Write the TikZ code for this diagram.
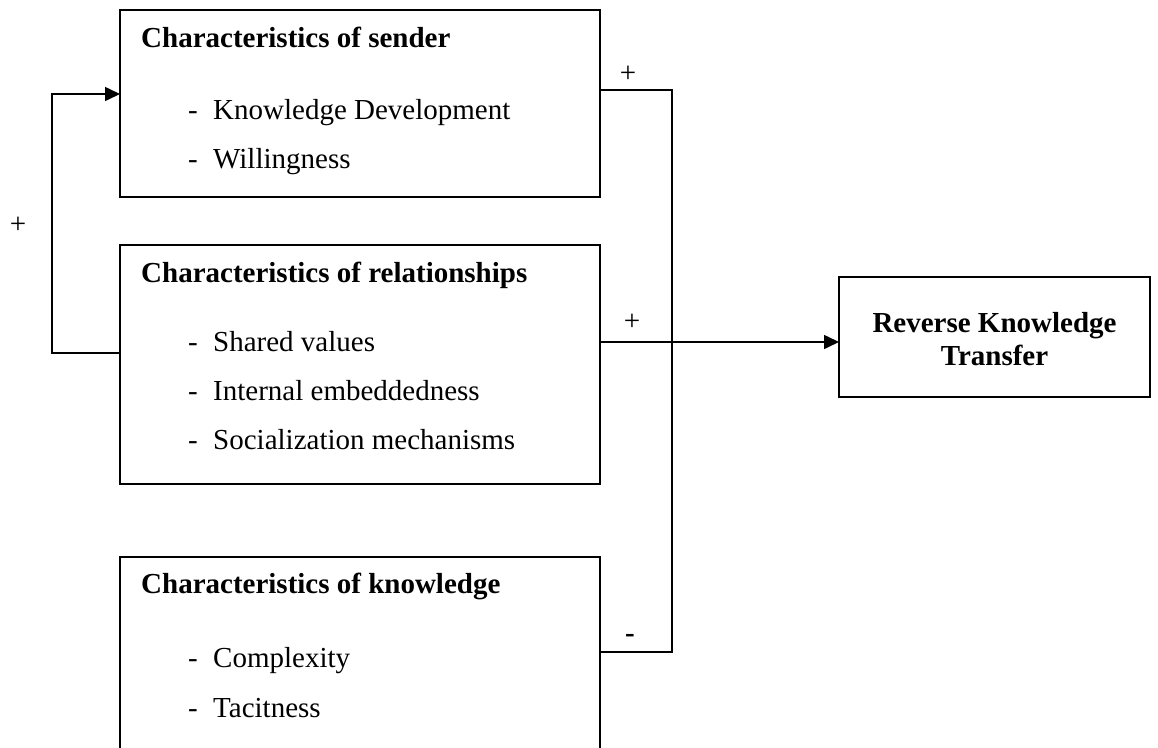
\documentclass[tikz,border=0pt]{standalone}
\usepackage{fontspec}
\setmainfont{Liberation Serif}
\usetikzlibrary{arrows.meta}
\begin{document}
\begin{tikzpicture}[x=1pt,y=-1pt,
  box/.style={draw, line width=1.6pt, anchor=north west, inner sep=0pt, outer sep=0pt},
  link/.style={line width=1.6pt},
  arrowlink/.style={link, -{Triangle[length=15pt,width=14pt]}},
  head/.style={anchor=base west, inner sep=0pt, font=\fontsize{29}{33}\selectfont\bfseries},
  item/.style={anchor=base west, inner sep=0pt, font=\fontsize{29}{33}\selectfont},
  title/.style={anchor=base, inner sep=0pt, font=\fontsize{29}{33}\selectfont\bfseries},
  sign/.style={inner sep=0pt, font=\fontsize{29}{33}\selectfont}]
\clip (0,0) rectangle (1158,747);

% the three groups of characteristics
\node[box, minimum width=480pt, minimum height=187pt] (sender) at (120,10) {};
\node[box, minimum width=480pt, minimum height=239pt] (relations) at (120,245) {};
\node[box, minimum width=480pt, minimum height=240pt] (knowledge) at (120,557) {};
% the outcome
\node[box, minimum width=311pt, minimum height=120pt] (rkt) at (839,277) {};

% sender
\node[head] (h1) at (141,47) {Characteristics of sender};
\node[item] (d11) at (188,119) {-};
\node[item] (t11) at (213,119) {Knowledge Development};
\node[item] (d12) at (188,168) {-};
\node[item] (t12) at (213,168) {Willingness};

% relationships
\node[head] (h2) at (141,282) {Characteristics of relationships};
\node[item] (d21) at (188,351) {-};
\node[item] (t21) at (213,351) {Shared values};
\node[item] (d22) at (188,400) {-};
\node[item] (t22) at (213,400) {Internal embeddedness};
\node[item] (d23) at (188,449) {-};
\node[item] (t23) at (213,449) {Socialization mechanisms};

% knowledge
\node[head] (h3) at (141,593) {Characteristics of knowledge};
\node[item] (d31) at (188,667) {-};
\node[item] (t31) at (213,667) {Complexity};
\node[item] (d32) at (188,717) {-};
\node[item] (t32) at (213,717) {Tacitness};

% outcome text
\node[title] (r1) at (994.5,332) {Reverse Knowledge};
\node[title] (r2) at (994.5,365) {Transfer};

% junction points of the connectors
\coordinate (jtop) at (672,90);
\coordinate (jmid) at (672,342);
\coordinate (jbot) at (672,652);
\coordinate (loopbot) at (52,353);
\coordinate (looptop) at (52,94);

\draw[link] (sender.east |- jtop) -- (jtop) -- (jbot) -- (knowledge.east |- jbot);
\draw[arrowlink] (relations.east |- jmid) -- (rkt.west |- jmid);
\draw[arrowlink] (relations.west |- loopbot) -- (loopbot) -- (looptop) -- (sender.west |- looptop);

% signs of the effects
\node[sign] (s1) at (628,74) {+};
\node[sign] (s2) at (632,322) {+};
\node[sign] (s3) at (18,225) {+};
\node[sign, font=\fontsize{29}{33}\selectfont\bfseries] (s4) at (630,638) {-};
\end{tikzpicture}
\end{document}
